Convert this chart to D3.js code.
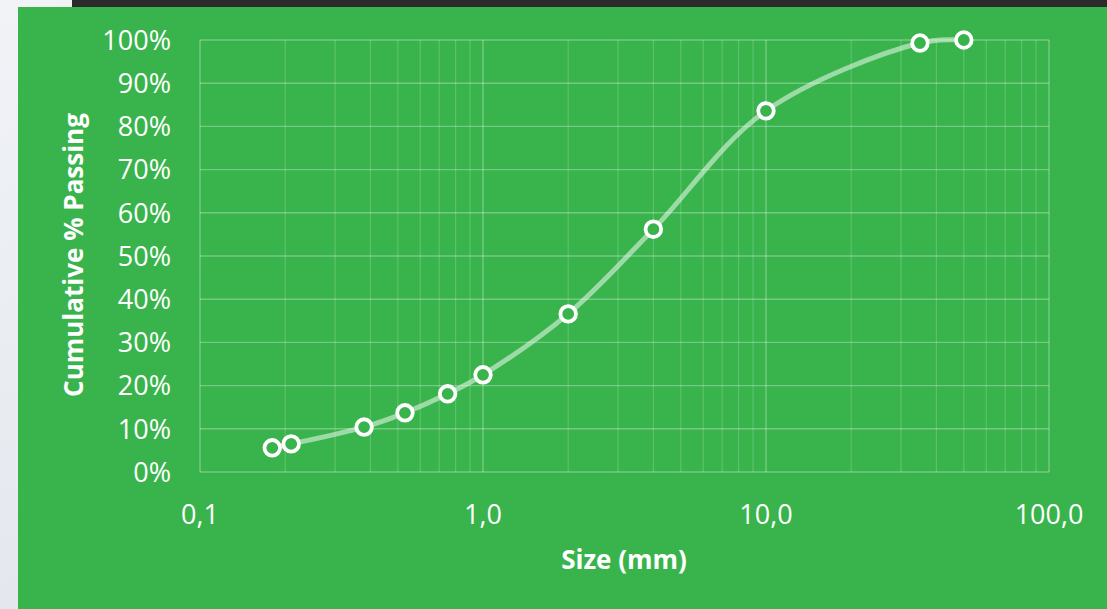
<!DOCTYPE html>
<html lang="en">
<head>
<meta charset="UTF-8">
<title>Cumulative % Passing</title>
<script src="https://d3js.org/d3.v7.min.js"></script>
<style>
  html, body { margin: 0; padding: 0; background: #e8ecf2; }
  svg { display: block; }
  text { font-family: "Open Sans", sans-serif; fill: #fff; }
</style>
</head>
<body>
<svg id="chart" width="1107" height="609"></svg>
<script>
// sieve sizes (mm) and cumulative passing (%)
const sizes   = [0.18, 0.21, 0.38, 0.53, 0.75, 1.0, 2.0, 4.0, 10.0, 35, 50];
const passing = [5.6, 6.5, 10.4, 13.7, 18.1, 22.5, 36.6, 56.2, 83.6, 99.3, 100];

const xTicks = [0.1, 1, 10, 100];
const xTickLabels = ["0,1", "1,0", "10,0", "100,0"];
const yTicks = [0, 10, 20, 30, 40, 50, 60, 70, 80, 90, 100];
const yTickLabels = yTicks.map(d => d + "%");

const W = 1107, H = 609;
const plot = { left: 200, right: 1049, top: 40, bottom: 472 };
const green = "#39b44c";

const svg = d3.select("#chart");

// page background pieces
const defs = svg.append("defs");
const lg = defs.append("linearGradient").attr("id", "side")
  .attr("x1", 0).attr("y1", 0).attr("x2", 1).attr("y2", 1);
lg.append("stop").attr("offset", "0%").attr("stop-color", "#f1f3f7");
lg.append("stop").attr("offset", "50%").attr("stop-color", "#e4e8ee");
lg.append("stop").attr("offset", "100%").attr("stop-color", "#eceff4");
svg.append("rect").attr("x", 0).attr("y", 0).attr("width", W).attr("height", H).attr("fill", "url(#side)");
svg.append("rect").attr("x", 72).attr("y", 0).attr("width", W - 72).attr("height", 8).attr("fill", "#2b2b2b");
svg.append("rect").attr("x", 18).attr("y", 7).attr("width", W - 18).attr("height", H - 7).attr("fill", green);

const x = d3.scaleLog().domain([0.1, 100]).range([plot.left, plot.right]);
const y = d3.scaleLinear().domain([0, 100]).range([plot.bottom, plot.top]);

// minor vertical gridlines
const minor = [];
[0.1, 1, 10].forEach(dec => { for (let k = 2; k <= 9; k++) minor.push(dec * k); });
svg.append("g").selectAll("line").data(minor).join("line")
  .attr("x1", d => x(d)).attr("x2", d => x(d))
  .attr("y1", plot.top).attr("y2", plot.bottom)
  .attr("stroke", "rgba(255,255,255,0.18)").attr("stroke-width", 1.2);

// major gridlines
svg.append("g").selectAll("line").data(xTicks).join("line")
  .attr("x1", d => x(d)).attr("x2", d => x(d))
  .attr("y1", plot.top).attr("y2", plot.bottom)
  .attr("stroke", "rgba(255,255,255,0.3)").attr("stroke-width", 1.4);
svg.append("g").selectAll("line").data(yTicks).join("line")
  .attr("x1", plot.left).attr("x2", plot.right)
  .attr("y1", d => y(d)).attr("y2", d => y(d))
  .attr("stroke", "rgba(255,255,255,0.3)").attr("stroke-width", 1.4);

// tick labels
svg.append("g").selectAll("text").data(yTicks).join("text")
  .attr("x", 171).attr("y", d => y(d)).attr("dy", "0.36em")
  .attr("text-anchor", "end").attr("font-size", 27)
  .text((d, i) => yTickLabels[i]);
svg.append("g").selectAll("text").data(xTicks).join("text")
  .attr("x", d => x(d)).attr("y", 524)
  .attr("text-anchor", "middle").attr("font-size", 27)
  .text((d, i) => xTickLabels[i]);

// axis titles
svg.append("text").attr("x", 624).attr("y", 569)
  .attr("text-anchor", "middle").attr("font-size", 26).attr("font-weight", "bold")
  .text("Size (mm)");
svg.append("text").attr("transform", "translate(83,255) rotate(-90)")
  .attr("text-anchor", "middle").attr("font-size", 26).attr("font-weight", "bold")
  .text("Cumulative % Passing");

// curve + markers
const pts = sizes.map((s, i) => [x(s), y(passing[i])]);
svg.append("path").datum(pts)
  .attr("d", d3.line().curve(d3.curveCatmullRom.alpha(0.5)))
  .attr("fill", "none").attr("stroke", "rgba(255,255,255,0.5)")
  .attr("stroke-width", 5).attr("stroke-linecap", "round");
svg.append("g").selectAll("circle").data(pts).join("circle")
  .attr("cx", d => d[0]).attr("cy", d => d[1]).attr("r", 7.8)
  .attr("fill", green).attr("stroke", "#fff").attr("stroke-width", 3.8);
</script>
</body>
</html>
